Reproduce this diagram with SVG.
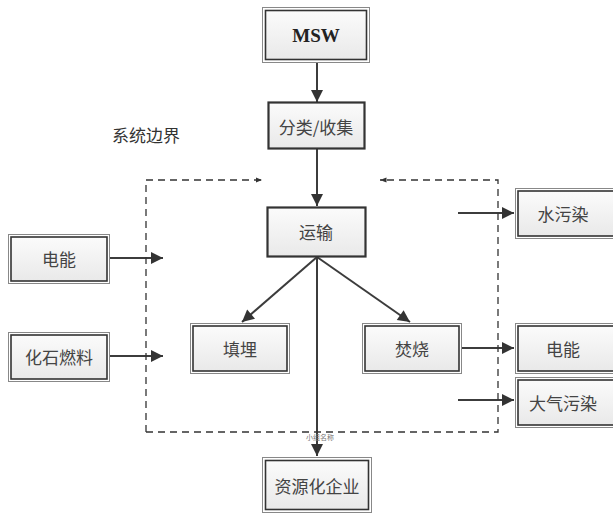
<svg xmlns="http://www.w3.org/2000/svg" width="613" height="516" viewBox="0 0 613 516">
<defs>
<linearGradient id="g" x1="0" y1="0" x2="0" y2="1">
<stop offset="0" stop-color="#fbfbfb"/>
<stop offset="1" stop-color="#e9e9e9"/>
</linearGradient>
<marker id="ah" viewBox="0 0 10 10" refX="10" refY="5" markerWidth="6.5" markerHeight="6" orient="auto" markerUnits="strokeWidth">
<path d="M0,0 L10,5 L0,10 Z" fill="#333"/>
</marker>
<marker id="ahs" viewBox="0 0 10 10" refX="10" refY="5" markerWidth="5" markerHeight="5" orient="auto" markerUnits="strokeWidth">
<path d="M0,1 L10,5 L0,9 Z" fill="#333"/>
</marker>
</defs>
<style>
.outer{fill:none;stroke:#888;stroke-width:1}
.inner{fill:url(#g);stroke:#333;stroke-width:1.6}
.t{font-family:"Noto Sans CJK SC","Noto Sans",sans-serif;font-size:17px;fill:#444;text-anchor:middle;dominant-baseline:central}
.c{stroke:#3c3c3c;stroke-width:2;fill:none}
.d{stroke:#333;stroke-width:1.3;fill:none;stroke-dasharray:7,5}
</style>
<rect width="613" height="516" fill="#fff"/>
<g id="connectors">
<line class="c" x1="317" y1="63" x2="317" y2="102" marker-end="url(#ah)"/>
<line class="c" x1="317" y1="149" x2="317" y2="206" marker-end="url(#ah)"/>
<line class="c" x1="317" y1="257" x2="242" y2="322" marker-end="url(#ah)"/>
<line class="c" x1="317" y1="257" x2="410" y2="322" marker-end="url(#ah)"/>
<line class="c" x1="317" y1="257" x2="317" y2="456" marker-end="url(#ah)"/>
<line class="c" x1="110" y1="258" x2="163" y2="258" marker-end="url(#ah)"/>
<line class="c" x1="110" y1="356" x2="163" y2="356" marker-end="url(#ah)"/>
<line class="c" x1="458" y1="213" x2="514" y2="213" marker-end="url(#ah)"/>
<line class="c" x1="462" y1="348" x2="514" y2="348" marker-end="url(#ah)"/>
<line class="c" x1="458" y1="400" x2="514" y2="400" marker-end="url(#ah)"/>
<path class="d" d="M146,432 L146,180 L262,180" marker-end="url(#ahs)"/>
<path class="d" d="M146,432 L498,432 L498,180 L380,180" marker-end="url(#ahs)"/>
</g>
<text x="112" y="134" style="font-family:'Noto Sans CJK SC',sans-serif;font-size:17px;fill:#333;dominant-baseline:central">系统边界</text>
<text x="320" y="437" style="font-family:'Noto Sans CJK SC',sans-serif;font-size:7px;fill:#777;text-anchor:middle;dominant-baseline:central">小组名称</text>
<g id="msw">
<rect class="outer" x="262.5" y="7.5" width="107" height="55"/>
<rect class="inner" x="265.5" y="10.5" width="101" height="49"/>
<text x="316" y="35" style="font-family:'Liberation Serif',serif;font-weight:bold;font-size:19px;fill:#222;text-anchor:middle;dominant-baseline:central">MSW</text>
</g>
<g id="sort">
<rect class="inner" x="268.5" y="102.5" width="96" height="46" style="stroke-width:2.2"/>
<text class="t" x="316" y="126">分类/收集</text>
</g>
<g id="transport">
<rect class="inner" x="267.5" y="207.5" width="98" height="49" style="stroke-width:2.2"/>
<text class="t" x="316" y="231">运输</text>
</g>
<g id="landfill">
<rect class="outer" x="190.5" y="323.5" width="99" height="50"/>
<rect class="inner" x="193" y="326" width="94" height="45"/>
<text class="t" x="240" y="348">填埋</text>
</g>
<g id="incineration">
<rect class="outer" x="362.5" y="323.5" width="99" height="50"/>
<rect class="inner" x="365" y="326" width="94" height="45"/>
<text class="t" x="412" y="348">焚烧</text>
</g>
<g id="elec-in">
<rect class="outer" x="8.5" y="234.5" width="101" height="49"/>
<rect class="inner" x="11" y="237" width="96" height="44"/>
<text class="t" x="59" y="258">电能</text>
</g>
<g id="fossil">
<rect class="outer" x="8.5" y="332.5" width="101" height="49"/>
<rect class="inner" x="11" y="335" width="96" height="44"/>
<text class="t" x="59" y="356">化石燃料</text>
</g>
<g id="water">
<rect class="outer" x="515.5" y="188.5" width="102" height="50"/>
<rect class="inner" x="518" y="191" width="100" height="45"/>
<text class="t" x="563" y="213">水污染</text>
</g>
<g id="elec-out">
<rect class="outer" x="515.5" y="323.5" width="102" height="50"/>
<rect class="inner" x="518" y="326" width="100" height="45"/>
<text class="t" x="563" y="348">电能</text>
</g>
<g id="air">
<rect class="outer" x="515.5" y="377.5" width="102" height="50"/>
<rect class="inner" x="518" y="380" width="100" height="45"/>
<text class="t" x="563" y="402">大气污染</text>
</g>
<g id="recycle">
<rect class="outer" x="262.5" y="457.5" width="109" height="55"/>
<rect class="inner" x="265.5" y="460.5" width="103" height="49"/>
<text class="t" x="317" y="485">资源化企业</text>
</g>
</svg>
